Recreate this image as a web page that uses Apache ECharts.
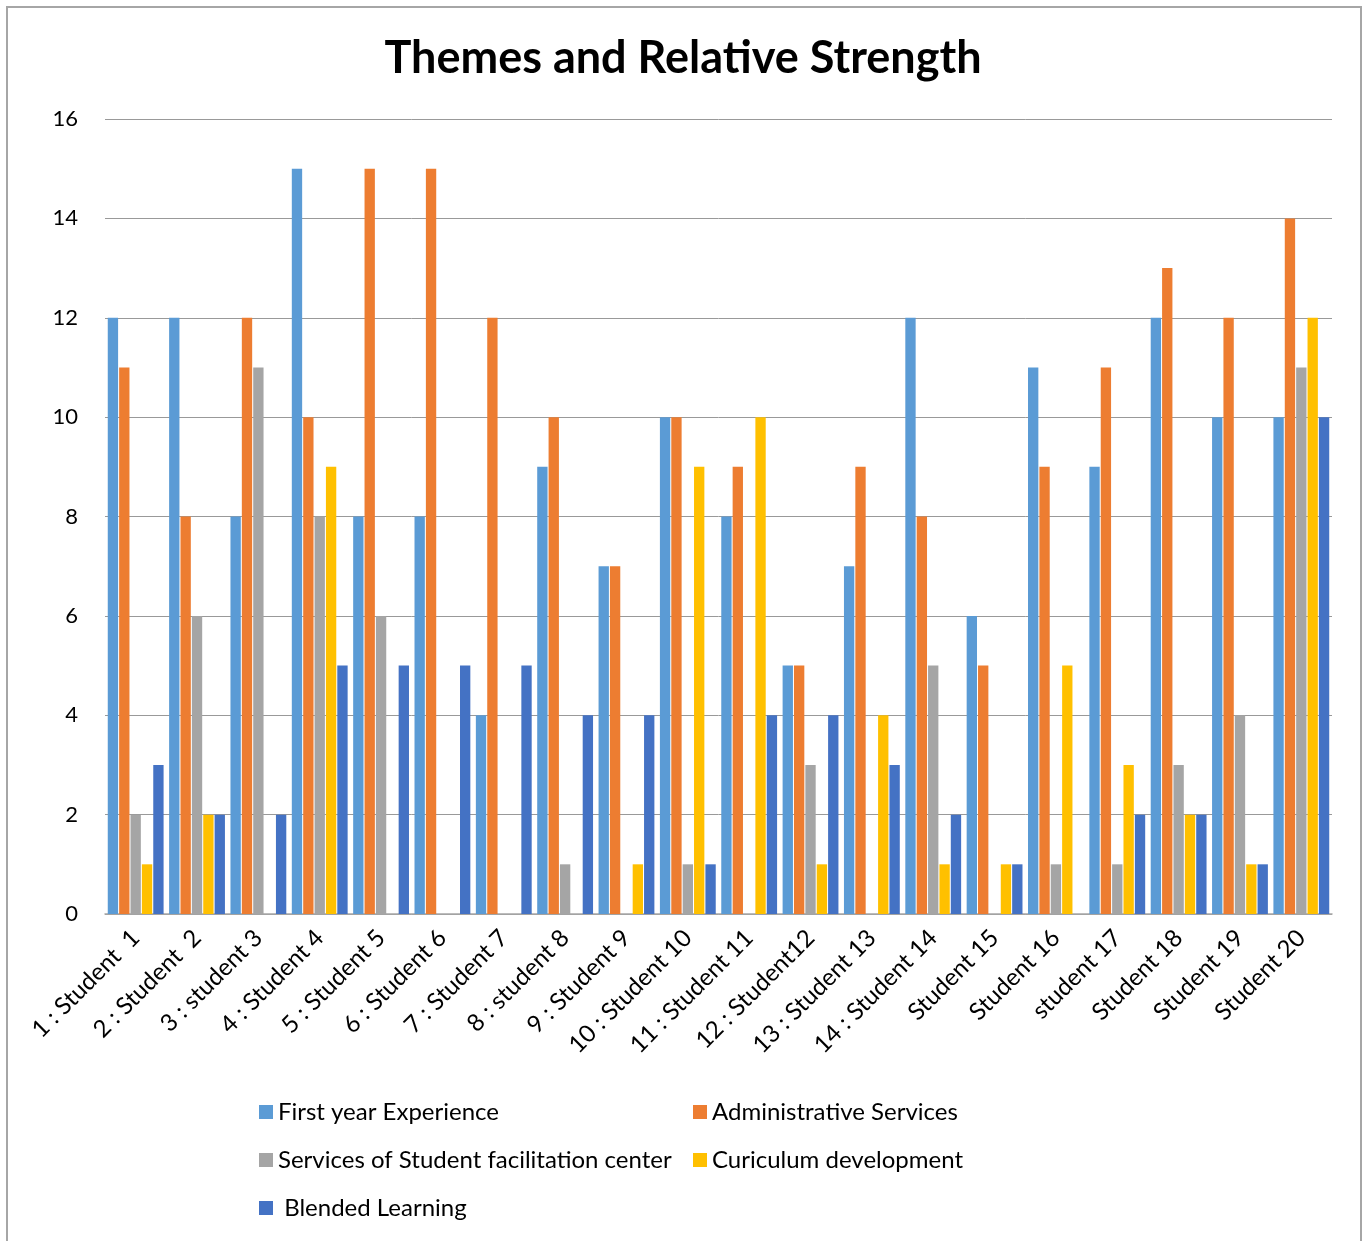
<!DOCTYPE html>
<html>
<head>
<meta charset="utf-8">
<script src="https://cdn.jsdelivr.net/npm/echarts@6/dist/echarts.min.js"></script>
<style>
html,body{margin:0;padding:0;background:#fff;}
#chart{width:1366px;height:1241px;}
</style>
</head>
<body>
<div id="chart"></div>
<script>
const categories = ["1 : Student  1","2 : Student  2","3 : student 3","4 : Student 4","5 : Student 5","6 : Student 6","7 : Student 7","8 : student 8","9 : Student 9","10 : Student 10","11 : Student 11","12 : Student12","13 : Student 13","14 : Student 14","Student 15","Student 16","student 17","Student 18","Student 19","Student 20"];
const firstYear      = [12,12,8,15,8,8,4,9,7,10,8,5,7,12,6,11,9,12,10,10];
const adminServices  = [11,8,12,10,15,15,12,10,7,10,9,5,9,8,5,9,11,13,12,14];
const facilitation   = [2,6,11,8,6,0,0,1,0,1,0,3,0,5,0,1,1,3,4,11];
const curriculum     = [1,2,0,9,0,0,0,0,1,9,10,1,4,1,1,5,3,2,1,12];
const blended        = [3,2,2,5,5,5,5,4,4,1,4,4,3,2,1,0,2,2,1,10];
const yTicks = [0,2,4,6,8,10,12,14,16];

const chart = echarts.init(document.getElementById('chart'));
const font = 'Lato, "Noto Sans", sans-serif';
function bar(name, data, color){
  return {name, type:'bar', data, barGap:'10%', barCategoryGap:'9%',
    itemStyle:{color}, emphasis:{disabled:true}};
}
const legendText = {fontFamily:font, fontSize:24, color:'#000'};
chart.setOption({
  animation:false,
  backgroundColor:'#fff',
  title:{text:'Themes and Relative Strength', left:'center', top:31,
    textStyle:{fontFamily:font, fontWeight:'bold', fontSize:45, color:'#000'}},
  graphic:[{type:'rect', shape:{x:7,y:7,width:1354,height:1250},
    style:{fill:'none', stroke:'#a6a6a6', lineWidth:2}, silent:true}],
  grid:{left:105, right:34, top:119, bottom:327, containLabel:false},
  xAxis:{type:'category', data:categories,
    axisLine:{lineStyle:{color:'#a6a6a6', width:1.5}},
    axisTick:{show:false},
    axisLabel:{rotate:45, interval:0, margin:20, fontFamily:font, fontSize:24, color:'#000'}},
  yAxis:{type:'value', min:yTicks[0], max:yTicks[yTicks.length-1], interval:2,
    axisLine:{show:false}, axisTick:{show:false},
    axisLabel:{margin:27, fontFamily:font, fontSize:22, color:'#000'},
    splitLine:{lineStyle:{color:'#999', width:1}}},
  legend:[
    {data:['First year Experience','Services of Student facilitation center',' Blended Learning'],
     orient:'vertical', left:254, top:1095, itemGap:24, itemWidth:14, itemHeight:14, icon:'rect',
     textStyle:legendText},
    {data:['Administrative Services','Curiculum development'],
     orient:'vertical', left:688, top:1095, itemGap:24, itemWidth:14, itemHeight:14, icon:'rect',
     textStyle:legendText}
  ],
  series:[
    bar('First year Experience', firstYear, '#5B9BD5'),
    bar('Administrative Services', adminServices, '#ED7D31'),
    bar('Services of Student facilitation center', facilitation, '#A5A5A5'),
    bar('Curiculum development', curriculum, '#FFC000'),
    bar(' Blended Learning', blended, '#4472C4')
  ]
});
</script>
</body>
</html>
